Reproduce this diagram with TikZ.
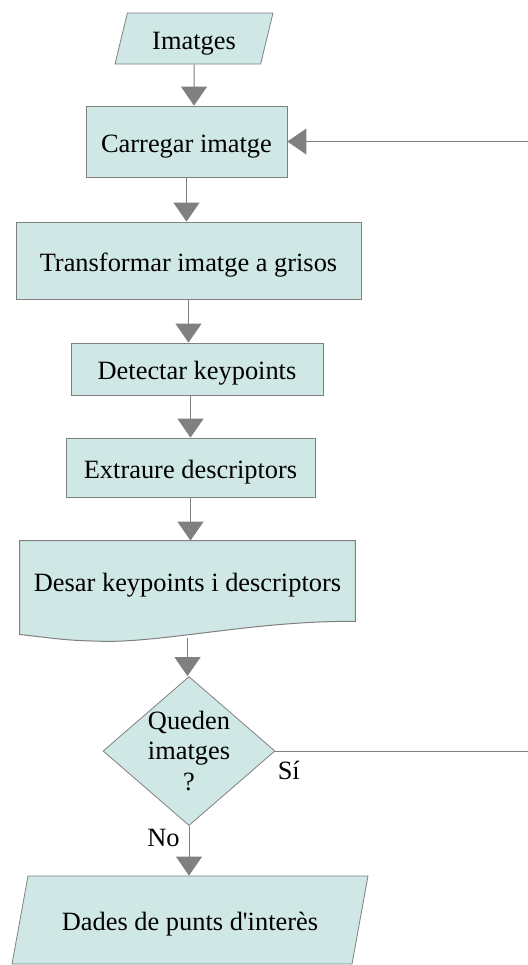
\documentclass[tikz,border=0pt]{standalone}
\usepackage{fontspec}
\setmainfont{Liberation Serif}
\usepackage{tikz}
\usetikzlibrary{shapes,arrows.meta,positioning,calc,backgrounds}
\definecolor{boxfill}{RGB}{207,231,229}
\definecolor{boxline}{RGB}{128,128,128}
\definecolor{arrowgray}{RGB}{128,128,128}

\begin{document}
\begin{tikzpicture}[
            x=1pt, y=1pt,
            font=\fontsize{13.2}{15.2}\selectfont,
            box/.style={draw=boxline, fill=boxfill, rectangle, inner sep=0pt, text height=10.5pt, text depth=0pt},
            iobox/.style={draw=boxline, fill=boxfill, trapezium, trapezium stretches body, inner sep=0pt, text height=10.5pt, text depth=0pt},
            decision/.style={draw=boxline, fill=boxfill, diamond, aspect=1.154, inner sep=-2pt, align=center, minimum width=86pt, minimum height=74.5pt},
            arrow/.style={-{Triangle[width=13pt,length=9.5pt]}, draw=arrowgray, line width=0.5pt}
        ]
            \useasboundingbox (0,0) rectangle (264,-482.5);

            \node[iobox, trapezium left angle=59.5, trapezium right angle=120.5, minimum width=79pt, minimum height=25.5pt] (imatges) at (97,-19.25) {Imatges};
            \node[box, node distance=51.5pt, below of=imatges, xshift=-3.75pt, minimum width=100.5pt, minimum height=35.5pt] (carregar) {Carregar imatge};
            \node[box, node distance=59.5pt, below of=carregar, xshift=1pt, minimum width=172.5pt, minimum height=38.5pt] (transformar) {Transformar imatge a grisos};
            \node[box, node distance=54.25pt, below of=transformar, xshift=4.25pt, minimum width=126pt, minimum height=26pt] (detectar) {Detectar keypoints};
            \node[box, node distance=49.25pt, below of=detectar, xshift=-3.25pt, minimum width=124.5pt, minimum height=29.5pt] (extraure) {Extraure descriptors};
            \node[node distance=56.75pt, below of=extraure, xshift=-1.5pt, minimum width=167.5pt, minimum height=40pt, inner sep=0pt, text height=10.5pt, text depth=0pt] (desar) {Desar keypoints i descriptors};
            \node[decision, node distance=85pt, below of=desar, xshift=0.75pt] (queden) {Queden\\imatges\\?};
            \node[iobox, node distance=84.5pt, below of=queden, xshift=0.5pt, trapezium left angle=52.7, trapezium right angle=127.3, minimum width=178pt, minimum height=44pt] (dades) {Dades de punts d\textquotesingle interès};

            % Document shape behind its text
            \begin{scope}[on background layer]
                \draw[draw=boxline, fill=boxfill, line width=0.5pt] (desar.north west) -- (desar.north east) -- (desar.south east)
                    .. controls ($(desar.south west)+(120,0.5)$) and ($(desar.south west)+(75,-10)$) .. ($(desar.south west)+(43.5,-10)$)
                    .. controls ($(desar.south west)+(25,-9.5)$) .. ($(desar.south west)+(0,-6.5)$) -- cycle;
            \end{scope}
            \coordinate (desarbot) at ($(desar.south)+(0,-8.5)$);
            \coordinate (loopr) at (272,0);

            \draw[arrow] (imatges) -- (imatges |- carregar.north);
            \draw[arrow] (carregar) -- (carregar |- transformar.north);
            \draw[arrow] (transformar) -- (transformar |- detectar.north);
            \draw[arrow] (detectar.south -| extraure) -- (extraure.north);
            \draw[arrow] (extraure) -- (extraure |- desar.north);
            \draw[arrow] (desarbot) -- (desarbot |- queden.north);
            \draw[arrow] (queden) -- (queden |- dades.north);
            \draw[arrow] (queden.east) -- (loopr |- queden.east) -- (loopr |- carregar.east) -- (carregar.east);

            % Labels
            \node[anchor=west, inner sep=1pt] (si) at ($(queden.east)+(0,-9.5)$) {Sí};
            \node[anchor=east, inner sep=1pt] (no) at ($(queden.south)+(-3.5,-6)$) {No};
        \end{tikzpicture}
\end{document}
